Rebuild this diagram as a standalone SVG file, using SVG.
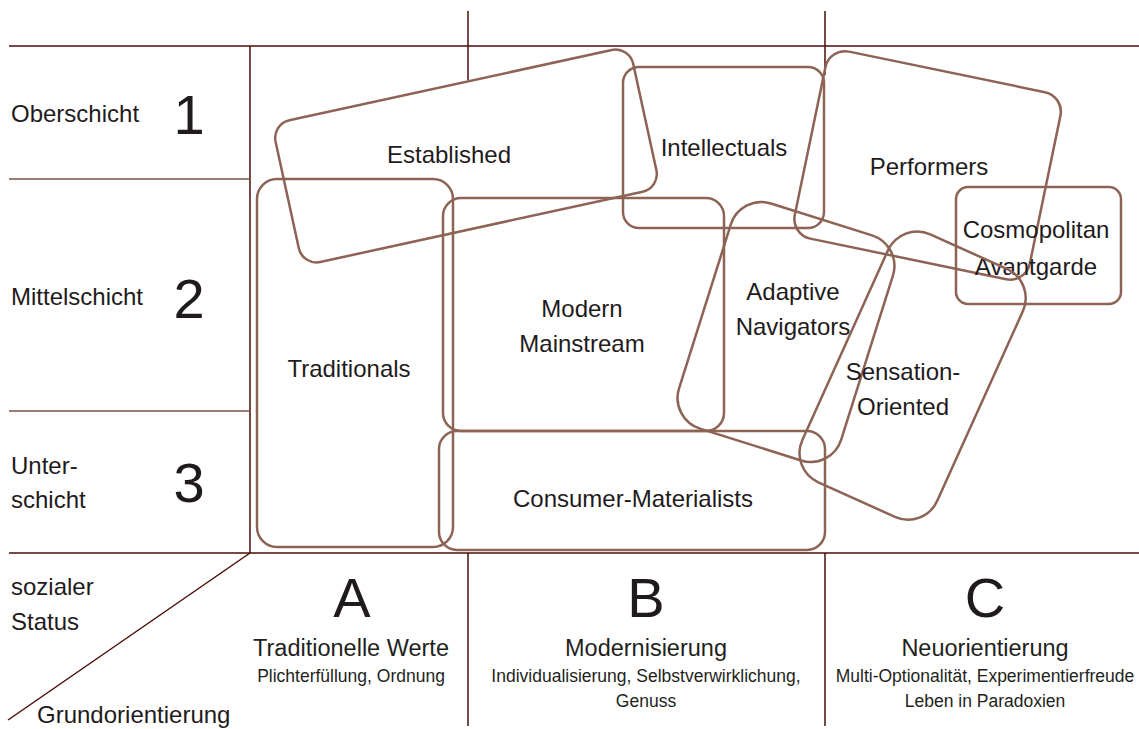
<svg xmlns="http://www.w3.org/2000/svg" width="1139" height="729" viewBox="0 0 1139 729">
  <style>
    .grid { stroke: #4a0d07; stroke-width: 1.5; fill: none; }
    .sep { stroke: #7a5046; stroke-width: 1.5; fill: none; }
    .seg { fill: none; stroke: #8c6355; stroke-width: 2.5; }
    .lbl { font-family: "Liberation Sans", Arial, sans-serif; font-size: 24px; fill: #1f1b1c; text-anchor: middle; }
    .row { font-family: "Liberation Sans", Arial, sans-serif; font-size: 24px; fill: #1f1b1c; }
    .num { font-family: "Liberation Sans", Arial, sans-serif; font-size: 56px; fill: #1f1b1c; text-anchor: middle; }
    .col { font-family: "Liberation Sans", Arial, sans-serif; font-size: 23.5px; fill: #231f20; text-anchor: middle; }
    .sub { font-family: "Liberation Sans", Arial, sans-serif; font-size: 17.5px; fill: #231f20; text-anchor: middle; }
  </style>

  <!-- axes and grid -->
  <g id="grid">
    <line class="grid" x1="9" y1="46" x2="1139" y2="46"/>
    <line class="grid" x1="9" y1="553" x2="1139" y2="553" stroke-width="2"/>
    <line class="grid" x1="250" y1="46" x2="250" y2="553"/>
    <line class="sep" x1="9" y1="179" x2="250" y2="179"/>
    <line class="sep" x1="9" y1="411" x2="250" y2="411"/>
    <line class="grid" x1="468" y1="11" x2="468" y2="80"/>
    <line class="grid" x1="825" y1="11" x2="825" y2="75"/>
    <line class="grid" x1="468" y1="553" x2="468" y2="726"/>
    <line class="grid" x1="825" y1="553" x2="825" y2="726"/>
    <line class="grid" x1="250" y1="553" x2="8" y2="720" stroke-width="1.2"/>
  </g>

  <!-- axis labels -->
  <g id="axis-labels">
    <text class="row" x="11" y="122">Oberschicht</text>
    <text class="row" x="11" y="305">Mittelschicht</text>
    <text class="row" x="11" y="474">Unter-</text>
    <text class="row" x="11" y="508">schicht</text>
    <text class="num" x="189" y="134">1</text>
    <text class="num" x="189" y="318">2</text>
    <text class="num" x="189" y="502">3</text>
    <text class="row" x="11" y="595">sozialer</text>
    <text class="row" x="11" y="630">Status</text>
    <text class="row" x="37" y="723">Grundorientierung</text>
    <text class="num" x="352" y="617">A</text>
    <text class="num" x="646" y="617">B</text>
    <text class="num" x="985" y="617">C</text>
    <text class="col" x="351" y="656">Traditionelle Werte</text>
    <text class="sub" x="351" y="682">Plichterfüllung, Ordnung</text>
    <text class="col" x="646" y="656">Modernisierung</text>
    <text class="sub" x="646" y="682">Individualisierung, Selbstverwirklichung,</text>
    <text class="sub" x="646" y="707">Genuss</text>
    <text class="col" x="985" y="656">Neuorientierung</text>
    <text class="sub" x="985" y="682">Multi-Optionalität, Experimentierfreude</text>
    <text class="sub" x="985" y="707">Leben in Paradoxien</text>
  </g>

  <!-- milieu segments -->
  <g id="established">
    <rect class="seg" x="-183" y="-72.5" width="366" height="145" rx="18" transform="translate(466 156) rotate(-12.3)"/>
    <text class="lbl" x="449" y="163">Established</text>
  </g>
  <g id="intellectuals">
    <rect class="seg" x="623" y="67" width="201" height="161" rx="16"/>
    <text class="lbl" x="724" y="156">Intellectuals</text>
  </g>
  <g id="performers">
    <rect class="seg" x="-120" y="-95.5" width="240" height="191" rx="20" transform="translate(927.6 165.4) rotate(11.7)"/>
    <text class="lbl" x="929" y="175">Performers</text>
  </g>
  <g id="cosmopolitan-avantgarde">
    <rect class="seg" x="956" y="187" width="165" height="117" rx="12"/>
    <text class="lbl" x="1036" y="238">Cosmopolitan</text>
    <text class="lbl" x="1036" y="275">Avantgarde</text>
  </g>
  <g id="traditionals">
    <rect class="seg" x="257" y="179" width="196" height="368" rx="20"/>
    <text class="lbl" x="349" y="377">Traditionals</text>
  </g>
  <g id="modern-mainstream">
    <rect class="seg" x="443" y="198" width="281" height="233" rx="18"/>
    <text class="lbl" x="582" y="317">Modern</text>
    <text class="lbl" x="582" y="352">Mainstream</text>
  </g>
  <g id="consumer-materialists">
    <rect class="seg" x="439" y="431" width="386" height="119" rx="18"/>
    <text class="lbl" x="633" y="507">Consumer-Materialists</text>
  </g>
  <g id="adaptive-navigators">
    <rect class="seg" x="-85" y="-118" width="170" height="236" rx="32" transform="translate(786 332) rotate(17.5)"/>
    <text class="lbl" x="793" y="300">Adaptive</text>
    <text class="lbl" x="793" y="335">Navigators</text>
  </g>
  <g id="sensation-oriented">
    <rect class="seg" x="-74" y="-136" width="148" height="272" rx="32" transform="translate(912.6 375.6) rotate(24.3)"/>
    <text class="lbl" x="903" y="380">Sensation-</text>
    <text class="lbl" x="903" y="415">Oriented</text>
  </g>
</svg>
